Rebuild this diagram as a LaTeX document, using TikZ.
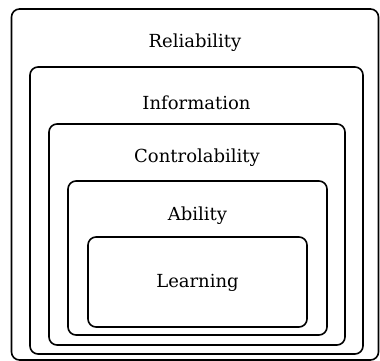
\documentclass[tikz,border=0pt]{standalone}
\usepackage{fontspec}
\newfontfamily\boxfont{DejaVu Serif}
\begin{document}
\begin{tikzpicture}[x=1pt,y=-1pt,line width=1.6pt,
            box/.style={draw,rounded corners=8pt,inner sep=0pt},
            main node/.style={font=\boxfont\fontsize{18}{22}\selectfont,anchor=base,inner sep=0pt}]
        \useasboundingbox (0,0) rectangle (380,361);

        % Define boxes
        \node[box,minimum width=367pt,minimum height=351pt] (R) at (195,184.5) {};
        \node[box,minimum width=333pt,minimum height=287pt] (I) at (196.5,210.5) {};
        \node[box,minimum width=296pt,minimum height=221pt] (C) at (197,234.5) {};
        \node[box,minimum width=259pt,minimum height=154pt] (A) at (197.5,258) {};
        \node[box,minimum width=219pt,minimum height=90pt] (L) at (197.5,282) {};

        % Draw labels
        \node[main node] (Rt) at (195,48) {Reliability};
        \node[main node] (It) at (196.5,109) {Information};
        \node[main node] (Ct) at (197,162) {Controlability};
        \node[main node] (At) at (197.5,220) {Ability};
        \node[main node] (Lt) at (197.5,287) {Learning};

\end{tikzpicture}
\end{document}
